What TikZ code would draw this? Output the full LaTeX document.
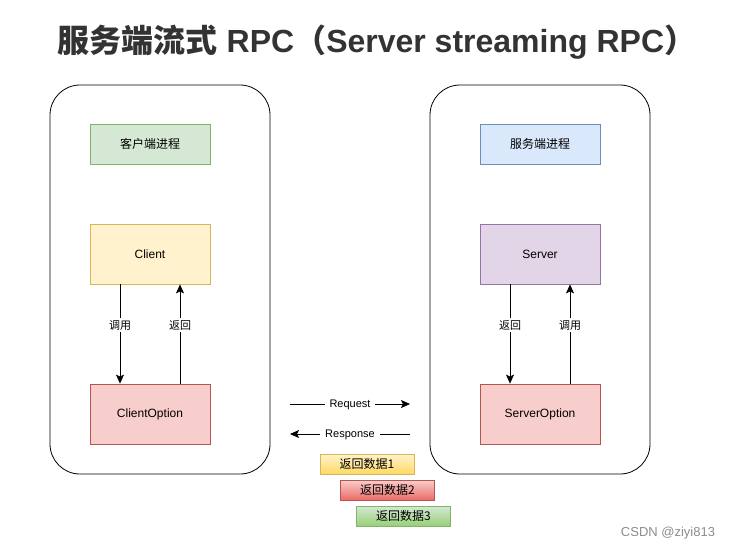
\documentclass[tikz,border=0pt]{standalone}
\usepackage{fontspec}
\setmainfont{Liberation Sans}
\newfontfamily\cjk{Noto Sans CJK SC}
\usetikzlibrary{arrows.meta}
\definecolor{greenfill}{HTML}{D5E8D4}
\definecolor{greenline}{HTML}{82B366}
\definecolor{greendark}{HTML}{97D077}
\definecolor{bluefill}{HTML}{DAE8FC}
\definecolor{blueline}{HTML}{6C8EBF}
\definecolor{yellowfill}{HTML}{FFF2CC}
\definecolor{yellowline}{HTML}{D6B656}
\definecolor{yellowdark}{HTML}{FFD966}
\definecolor{purplefill}{HTML}{E1D5E7}
\definecolor{purpleline}{HTML}{9673A6}
\definecolor{redfill}{HTML}{F8CECC}
\definecolor{redline}{HTML}{B85450}
\definecolor{reddark}{HTML}{EA6B66}
\definecolor{titlegray}{HTML}{333333}
\begin{document}
\begin{tikzpicture}[x=1pt,y=-1pt,
  proc/.style={draw=black, line width=0.8pt, rounded corners=30pt, minimum width=220pt, minimum height=389pt},
  tag/.style={draw, line width=0.8pt, minimum width=120pt, minimum height=40pt, font=\fontsize{12}{14}\selectfont\cjk},
  box/.style={draw, line width=0.8pt, minimum width=120pt, minimum height=60pt, font=\fontsize{12}{14}\selectfont},
  data/.style={draw, line width=0.8pt, minimum width=94pt, minimum height=20pt, inner sep=0pt, font=\fontsize{12}{14}\selectfont\cjk},
  arr/.style={line width=0.8pt, -{Stealth[length=9pt,width=8pt,inset=2pt]}},
  lbl/.style={fill=white, inner sep=2pt, font=\fontsize{11}{13}\selectfont}]
\useasboundingbox (0,0) rectangle (733,550);
% title
\node[text=titlegray, font=\fontsize{32}{36}\selectfont\bfseries] (title) at (377,42)
  {{\cjk 服务端流式} RPC{\cjk （}Server streaming RPC{\cjk ）}};
% process containers
\node[proc] (lproc) at (160,279.5) {};
\node[proc] (rproc) at (540,279.5) {};
\node[tag, fill=greenfill, draw=greenline] (ltag) at (150,144) {客户端进程};
\node[tag, fill=bluefill, draw=blueline] (rtag) at (540,144) {服务端进程};
% client side
\node[box, fill=yellowfill, draw=yellowline] (client) at (150,254) {Client};
\node[box, fill=redfill, draw=redline] (copt) at (150,414) {ClientOption};
\draw[arr] ([xshift=-30pt]client.south) -- node[lbl, pos=0.41]{\cjk 调用} ([xshift=-30pt]copt.north);
\draw[arr] ([xshift=30pt]copt.north) -- node[lbl, pos=0.59]{\cjk 返回} ([xshift=30pt]client.south);
% server side
\node[box, fill=purplefill, draw=purpleline] (server) at (540,254) {Server};
\node[box, fill=redfill, draw=redline] (sopt) at (540,414) {ServerOption};
\draw[arr] ([xshift=-30pt]server.south) -- node[lbl, pos=0.41]{\cjk 返回} ([xshift=-30pt]sopt.north);
\draw[arr] ([xshift=30pt]sopt.north) -- node[lbl, pos=0.59]{\cjk 调用} ([xshift=30pt]server.south);
% request / response
\coordinate (reqa) at (290,404);
\coordinate (reqb) at (410,404);
\coordinate (resa) at (410,434);
\coordinate (resb) at (290,434);
\draw[arr] (reqa) -- node[lbl, inner xsep=5pt, yshift=-1pt]{Request} (reqb);
\draw[arr] (resa) -- node[lbl, inner xsep=5pt, yshift=-1pt]{Response} (resb);
% returned data
\node[data, top color=yellowfill, bottom color=yellowdark, draw=yellowline] (data1) at (367,464) {返回数据1};
\node[data, top color=redfill, bottom color=reddark, draw=redline] (data2) at (387.5,490) {返回数据2};
\node[data, top color=greenfill, bottom color=greendark, draw=greenline] (data3) at (403.5,516) {返回数据3};
% watermark
\node[text=black!45, font=\fontsize{13}{15}\selectfont] (mark) at (668,533) {CSDN @ziyi813};
\end{tikzpicture}
\end{document}
